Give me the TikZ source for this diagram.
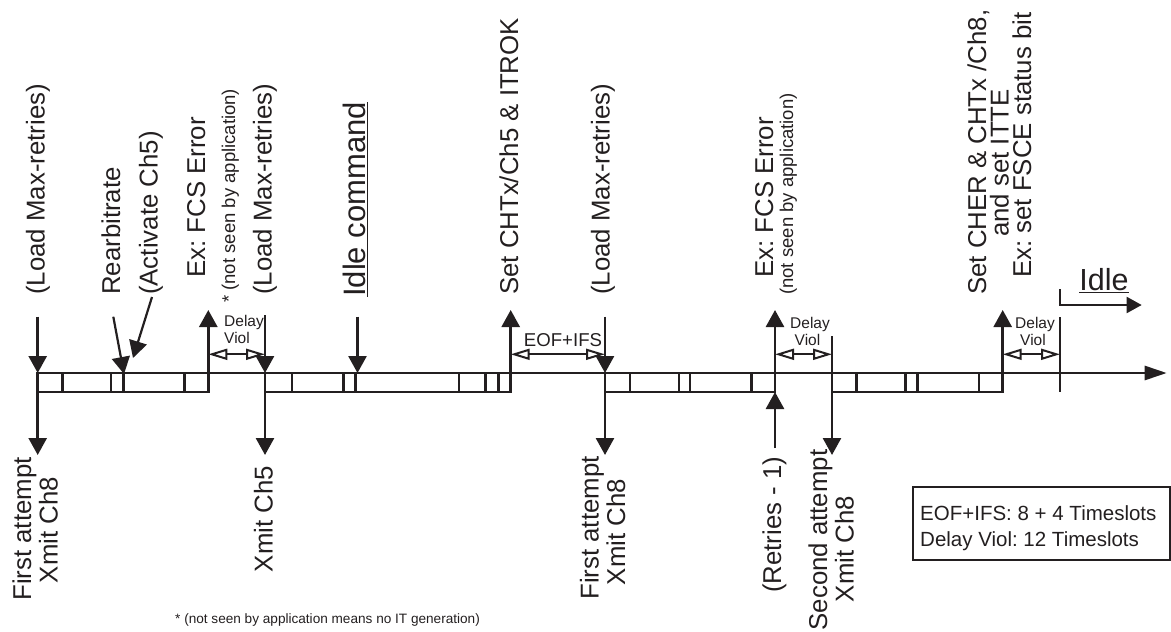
\documentclass[tikz,border=0pt]{standalone}
\usepackage{fontspec}
\setmainfont{Liberation Sans}
\frenchspacing
\usetikzlibrary{arrows.meta}
\definecolor{ink}{RGB}{35,31,32}
\tikzset{
  main/.style={line width=2.7pt, draw=ink},
  downtip/.style={-{Triangle[length=17pt,width=18pt]}},
  dim/.style={line width=2pt, draw=ink, {Triangle[open,length=19pt,width=11pt,line width=2pt]}-{Triangle[open,length=19pt,width=11pt,line width=2pt]}},
  rlab/.style={rotate=90, inner sep=0pt, text=ink, font=\fontsize{25.8}{28}\selectfont},
  rsmall/.style={rotate=90, inner sep=0pt, text=ink, font=\fontsize{18.5}{20}\selectfont},
  rbig/.style={rotate=90, inner sep=0pt, text=ink, font=\fontsize{31}{33}\selectfont},
  dlab/.style={inner sep=0pt, text=ink, font=\fontsize{15.5}{17}\selectfont},
  elab/.style={inner sep=0pt, text=ink, font=\fontsize{18.6}{20}\selectfont},
  idlelab/.style={inner sep=0pt, text=ink, font=\fontsize{30.5}{32}\selectfont},
  footlab/.style={inner sep=0pt, text=ink, font=\fontsize{13.6}{15}\selectfont},
  legendbox/.style={draw=ink, line width=2pt, inner sep=0pt, minimum width=256.7pt, minimum height=72.7pt},
  legendtext/.style={inner sep=0pt, text=ink, font=\fontsize{20.5}{24}\selectfont},
}
\begin{document}
\begin{tikzpicture}[x=1pt,y=-1pt]
\useasboundingbox (0,0) rectangle (1171,632);

% ---- axis
\coordinate (ax0) at (37.7,373);
\coordinate (ax1) at (1166.7,373);
\draw[main, -{Triangle[length=22pt,width=14pt]}] (ax0) -- (ax1);

% ---- frames
\draw[main] (37.7,373) rectangle (208.3,392);
\foreach \x in {62.3,111,123.3,184.3} \draw[main] (\x,373) -- (\x,392);
\draw[main] (265,373) rectangle (510.7,392);
\foreach \x in {292,343.3,355.7,459,485.7,498.3} \draw[main] (\x,373) -- (\x,392);
\draw[main] (605,373) rectangle (775,392);
\foreach \x in {630,679,690,751.7} \draw[main] (\x,373) -- (\x,392);
\draw[main] (832,373) rectangle (1002.7,392);
\foreach \x in {856.7,905.7,917.3,979} \draw[main] (\x,373) -- (\x,392);

% ---- coordinates
\coordinate (d1t) at (37.7,316.7);  \coordinate (d1b) at (37.7,373);
\coordinate (d2t) at (265,315);     \coordinate (d2b) at (265,373);
\coordinate (d3t) at (357.5,316.7); \coordinate (d3b) at (357.5,373);
\coordinate (d4t) at (605,316.7);   \coordinate (d4b) at (605,373);
\coordinate (b1t) at (37.7,392);  \coordinate (b1b) at (37.7,455);
\coordinate (b2t) at (265,392);   \coordinate (b2b) at (265,455);
\coordinate (b3t) at (605,392);   \coordinate (b3b) at (605,455);
\coordinate (b4t) at (832,392);   \coordinate (b4b) at (832,455);
\coordinate (u1b) at (208.3,373); \coordinate (u1t) at (208.3,310);
\coordinate (u2b) at (510.7,373); \coordinate (u2t) at (510.7,310);
\coordinate (u3b) at (775,373);   \coordinate (u3t) at (775,310);
\coordinate (u4b) at (1002.7,373);\coordinate (u4t) at (1002.7,310);
\coordinate (rt0) at (775,448);   \coordinate (rt1) at (775,392);
\coordinate (rb0) at (113.3,316.7); \coordinate (rb1) at (124,374);
\coordinate (ac0) at (152,297);   \coordinate (ac1) at (133,358);
\coordinate (v1t) at (832,336);   \coordinate (v1b) at (832,373);
\coordinate (v2t) at (1060,317);  \coordinate (v2b) at (1060,392);
\coordinate (i0) at (1060,289);   \coordinate (i1) at (1141.7,305);

% ---- arrows
\foreach \a/\b in {d1t/d1b,d2t/d2b,d3t/d3b,d4t/d4b,b1t/b1b,b2t/b2b,b3t/b3b,b4t/b4b,u1b/u1t,u2b/u2t,u3b/u3t,u4b/u4t,rt0/rt1}
  \draw[main, downtip] (\a) -- (\b);
\draw[line width=2.2pt, draw=ink, downtip] (rb0) -- (rb1);
\draw[line width=2.2pt, draw=ink, downtip] (ac0) -- (ac1);
\draw[main] (v1t) -- (v1b);
\draw[main] (v2t) -- (v2b);
\draw[line width=2pt, draw=ink, -{Triangle[length=15pt,width=16pt]}] (i0) |- (i1);

% ---- dimension arrows
\draw[dim] (208.3,354.3) -- (265,354.3);
\draw[dim] (510.7,354.3) -- (605,354.3);
\draw[dim] (775,354.3) -- (832,354.3);
\draw[dim] (1002.7,354.3) -- (1060,354.3);

% ---- top labels
\node[rlab, anchor=base west] (t1) at (44.5,295) {(Load Max-retries)};
\node[rlab, anchor=base west] (t2) at (120,295) {Rearbitrate};
\node[rlab, anchor=base west] (t3) at (157.5,295) {(Activate Ch5)};
\node[rlab, anchor=base west] (t4) at (205,278) {Ex: FCS Error};
\node[rsmall, anchor=base west] (t5) at (235,303) {* (not seen by application)};
\node[rlab, anchor=base west] (t6) at (271.5,295) {(Load Max-retries)};
\node[rbig, anchor=base west] (t7) at (365,297) {\underline{Idle command}};
\node[rlab, anchor=base west] (t8) at (518,295) {Set CHTx/Ch5 \& ITROK};
\node[rlab, anchor=base west] (t9) at (609.5,295) {(Load Max-retries)};
\node[rlab, anchor=base west] (t10) at (773,278) {Ex: FCS Error};
\node[rsmall, anchor=base west] (t11) at (793,295) {(not seen by application)};
\node[rlab, anchor=base west] (t12) at (986,295) {Set CHER \& CHTx /Ch8,};
\node[rlab, anchor=base west] (t13) at (1008.5,237) {and set ITTE};
\node[rlab, anchor=base west] (t14) at (1031,278) {Ex: set FSCE status bit};

% ---- bottom labels
\node[rlab, anchor=base] (f1a) at (31,529) {First attempt};
\node[rlab, anchor=base] (f1b) at (57.5,530) {Xmit Ch8};
\node[rlab, anchor=base] (x5) at (272.5,519) {Xmit Ch5};
\node[rlab, anchor=base] (f2a) at (598.5,528) {First attempt};
\node[rlab, anchor=base] (f2b) at (625,532) {Xmit Ch8};
\node[rlab, anchor=base west] (rt) at (781,593) {(Retries - 1)};
\node[rlab, anchor=base] (s2a) at (827,540) {Second attempt};
\node[rlab, anchor=base] (s2b) at (853.5,549) {Xmit Ch8};

% ---- horizontal labels
\node[dlab, anchor=base west] (dv1a) at (224,326) {Delay};
\node[dlab, anchor=base west] (dv1b) at (224,343) {Viol};
\node[dlab, anchor=base] (dv2a) at (810,328) {Delay};
\node[dlab, anchor=base] (dv2b) at (807.5,345) {Viol};
\node[dlab, anchor=base] (dv3a) at (1035,328.3) {Delay};
\node[dlab, anchor=base] (dv3b) at (1033,345) {Viol};
\node[elab, anchor=base] (eof) at (563,346.7) {EOF+IFS};
\node[idlelab, anchor=base] (idle) at (1104,290) {\underline{Idle}};
\node[footlab, anchor=base west] (foot) at (175,623) {* (not seen by application means no IT generation)};

% ---- legend
\node[legendbox, anchor=south west] (legend) at (912.3,560.7) {};
\node[legendtext, anchor=base west] (leg1) at (920,520) {EOF+IFS: 8 + 4 Timeslots};
\node[legendtext, anchor=base west] (leg2) at (920,546) {Delay Viol: 12 Timeslots};
\end{tikzpicture}
\end{document}
